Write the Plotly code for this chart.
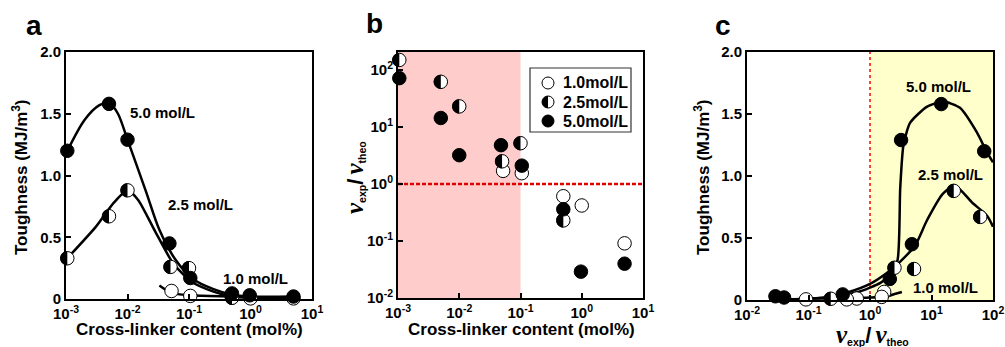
import plotly.graph_objects as go

W, H = 1005, 347
FONT = "Liberation Sans"

# ---------------- data ----------------
content_10 = [0.052, 0.105, 0.5, 1.0, 5.0]
content_25 = [0.00105, 0.005, 0.01, 0.05, 0.1, 0.5]
content_50 = [0.00105, 0.005, 0.01, 0.048, 0.105, 0.5, 0.97, 5.0]

tough_10 = [0.065, 0.025, 0.012, 0.005, 0.005]
tough_25 = [0.33, 0.67, 0.88, 0.26, 0.25, 0.01]
tough_50 = [1.20, 1.58, 1.29, 0.45, 0.17, 0.045, 0.03, 0.02]

ratio_10 = [1.7, 1.55, 0.61, 0.42, 0.091]
ratio_25 = [150, 62, 23, 2.5, 5.2, 0.23]
ratio_50 = [72, 14.4, 3.2, 4.8, 2.1, 0.36, 0.029, 0.04]

# guide curves, panel a (toughness vs cross-linker content)
fit_a50_x = [0.00105, 0.002, 0.0035, 0.005, 0.007, 0.01, 0.02, 0.033, 0.06, 0.117, 0.25, 0.5, 1, 5]
fit_a50_y = [1.20, 1.45, 1.57, 1.59, 1.50, 1.29, 0.87, 0.56, 0.32, 0.16, 0.08, 0.035, 0.02, 0.02]
fit_a25_x = [0.00105, 0.003, 0.006, 0.01, 0.015, 0.028, 0.055, 0.11, 0.25, 0.5, 1, 5]
fit_a25_y = [0.33, 0.58, 0.78, 0.88, 0.80, 0.55, 0.29, 0.14, 0.06, 0.02, 0.01, 0.01]
fit_a10_x = [0.033, 0.052, 0.105, 0.5, 1, 5]
fit_a10_y = [0.11, 0.05, 0.03, 0.02, 0.015, 0.015]

# guide curves, panel c (toughness vs nu_exp/nu_theo)
fit_c50_x = [0.029, 0.1, 0.3, 0.6, 1.0, 1.5, 2.1, 2.8, 3.1, 3.5, 4.5, 8.5, 15.5, 29, 55, 80, 100]
fit_c50_y = [0.005, 0.01, 0.03, 0.06, 0.1, 0.14, 0.2, 0.32, 0.9, 1.25, 1.43, 1.56, 1.6, 1.55, 1.35, 1.19, 1.11]
fit_c25_x = [0.029, 0.1, 0.25, 0.43, 1.0, 1.9, 3.1, 5.4, 8.5, 15.5, 24, 47, 80, 100]
fit_c25_y = [0.005, 0.01, 0.03, 0.06, 0.13, 0.22, 0.31, 0.44, 0.645, 0.86, 0.92, 0.78, 0.68, 0.59]
fit_c10_x = [0.09, 0.4, 1.0, 1.9, 2.6, 3.3]
fit_c10_y = [0.012, 0.015, 0.02, 0.03, 0.05, 0.065]

# ticks
lin_vals = [0, 0.5, 1.0, 1.5, 2.0]
lin_text = ["0", "0.5", "1.0", "1.5", "2.0"]
xa_vals = [0.001, 0.01, 0.1, 1, 10]
xa_text = ["10<sup>-3</sup>", "10<sup>-2</sup>", "10<sup>-1</sup>", "10<sup>0</sup>", "10<sup>1</sup>"]
yb_vals = [0.01, 0.1, 1, 10, 100]
yb_text = ["10<sup>-2</sup>", "10<sup>-1</sup>", "10<sup>0</sup>", "10<sup>1</sup>", "10<sup>2</sup>"]
xc_vals = [0.01, 0.1, 1, 10, 100]
xc_text = yb_text

legend_labels = ["1.0mol/L", "2.5mol/L", "5.0mol/L"]

# ---------------- geometry ----------------
dom_x = {1: [66 / W, 312 / W], 2: [398 / W, 643 / W], 3: [747 / W, 993 / W]}
dom_y = {1: [1 - 299 / H, 1 - 52 / H], 2: [1 - 298 / H, 1 - 52 / H], 3: [1 - 300 / H, 1 - 52 / H]}
rng_x = {1: [-3, 1], 2: [-3, 1], 3: [-2, 2]}
rng_y = {1: [0, 2], 2: [-2, 2.316], 3: [0, 2]}
typ_y = {1: "linear", 2: "log", 3: "linear"}

MS = 13.5
LW = 2.5

fig = go.Figure()


def ax(n):
    return ("x" if n == 1 else f"x{n}"), ("y" if n == 1 else f"y{n}")


def line(n, xs, ys, smooth=0.8):
    xr, yr = ax(n)
    fig.add_trace(go.Scatter(x=xs, y=ys, mode="lines", xaxis=xr, yaxis=yr,
                             line=dict(color="black", width=LW, shape="spline", smoothing=smooth),
                             showlegend=False, hoverinfo="skip"))


def pts(n, xs, ys, fill):
    xr, yr = ax(n)
    fig.add_trace(go.Scatter(x=xs, y=ys, mode="markers", xaxis=xr, yaxis=yr, cliponaxis=False,
                             marker=dict(size=MS, color=fill, line=dict(color="black", width=1)),
                             showlegend=False))


R = MS / 2 + 0.3
K = 0.5523 * R
HALF = f"M0,{R:.2f} C{-K:.2f},{R:.2f} {-R:.2f},{K:.2f} {-R:.2f},0 C{-R:.2f},{-K:.2f} {-K:.2f},{-R:.2f} 0,{-R:.2f} Z"
shapes = []


def halves(n, xs, ys):
    # left-half black caps drawn on hidden, slightly larger axes with identical scale (no clipping at the frame)
    for xv, yv in zip(xs, ys):
        shapes.append(dict(type="path", xref=f"x{n + 3}", yref=f"y{n + 3}", xsizemode="pixel", ysizemode="pixel",
                           xanchor=xv, yanchor=yv, path=HALF, fillcolor="black", line=dict(width=0), layer="above"))


# panel a
line(1, fit_a50_x, fit_a50_y)
line(1, fit_a25_x, fit_a25_y, 0.6)
line(1, fit_a10_x, fit_a10_y)
pts(1, content_10, tough_10, "white")
pts(1, content_25, tough_25, "white")
pts(1, content_50, tough_50, "black")
halves(1, content_25, tough_25)

# panel b
pts(2, content_10, ratio_10, "white")
pts(2, content_25, ratio_25, "white")
pts(2, content_50, ratio_50, "black")
halves(2, content_25, ratio_25)

# panel c
line(3, fit_c50_x, fit_c50_y, 0.6)
line(3, fit_c25_x, fit_c25_y, 0.8)
line(3, fit_c10_x, fit_c10_y)
pts(3, ratio_10, tough_10, "white")
pts(3, ratio_25, tough_25, "white")
pts(3, ratio_50, tough_50, "black")
cx = [v for v in ratio_25 if v <= 100]
cy = [t for v, t in zip(ratio_25, tough_25) if v <= 100]
halves(3, cx, cy)

# hidden axes need a trace each so that their subplot exists
for n in (4, 5, 6):
    fig.add_trace(go.Scatter(x=[], y=[], xaxis=f"x{n}", yaxis=f"y{n}", showlegend=False))

tickfont = dict(family=FONT, size=15, color="black", weight="bold")
base = dict(showline=True, linecolor="black", linewidth=2, mirror=True, ticks="inside", ticklen=5,
            tickwidth=1.5, tickcolor="black", showgrid=False, zeroline=False, tickfont=tickfont)

layout = dict(width=W, height=H, margin=dict(l=0, r=0, t=0, b=0), paper_bgcolor="white",
              plot_bgcolor="rgba(0,0,0,0)", showlegend=False, template="none")

tick_x = {1: (xa_vals, xa_text), 2: (xa_vals, xa_text), 3: (xc_vals, xc_text)}
tick_y = {1: (lin_vals, lin_text), 2: (yb_vals, yb_text), 3: (lin_vals, lin_text)}

PAD = 10
for n in (1, 2, 3):
    xk = "xaxis" if n == 1 else f"xaxis{n}"
    yk = "yaxis" if n == 1 else f"yaxis{n}"
    xr, yr = ax(n)
    layout[xk] = dict(base, type="log", range=rng_x[n], domain=dom_x[n], anchor=yr,
                      tickmode="array", tickvals=tick_x[n][0], ticktext=tick_x[n][1])
    layout[yk] = dict(base, type=typ_y[n], range=rng_y[n], domain=dom_y[n], anchor=xr,
                      tickmode="array", tickvals=tick_y[n][0], ticktext=tick_y[n][1])
    # hidden twin axes with identical scale but extended by PAD pixels
    d0, d1 = dom_x[n]
    upp = (rng_x[n][1] - rng_x[n][0]) / ((d1 - d0) * W)
    layout[f"xaxis{n + 3}"] = dict(type="log", visible=False, domain=[d0 - PAD / W, d1 + PAD / W],
                                   range=[rng_x[n][0] - PAD * upp, rng_x[n][1] + PAD * upp], anchor=f"y{n + 3}")
    e0, e1 = dom_y[n]
    upp = (rng_y[n][1] - rng_y[n][0]) / ((e1 - e0) * H)
    layout[f"yaxis{n + 3}"] = dict(type=typ_y[n], visible=False, domain=[e0 - PAD / H, e1 + PAD / H],
                                   range=[rng_y[n][0] - PAD * upp, rng_y[n][1] + PAD * upp], anchor=f"x{n + 3}")

# background regions and guide lines
shapes_bg = [
    dict(type="rect", xref="x2", yref="y2 domain", x0=0.001, x1=0.1, y0=0, y1=1,
         fillcolor="#FFCCCC", line=dict(width=0), layer="below"),
    dict(type="rect", xref="x3", yref="y3 domain", x0=1, x1=100, y0=0, y1=1,
         fillcolor="#FFFFCC", line=dict(width=0), layer="below"),
    dict(type="line", xref="x2 domain", yref="y2", x0=0, x1=1, y0=1, y1=1,
         line=dict(color="#E00000", width=2.5, dash="4px,2px"), layer="below"),
    dict(type="line", xref="x3", yref="y3 domain", x0=1, x1=1, y0=0, y1=1,
         line=dict(color="#FF0000", width=1.5, dash="dot"), layer="below"),
]

# legend of panel b (box, symbols, labels)
leg = [dict(type="rect", xref="paper", yref="paper", x0=530 / W, x1=631 / W, y0=1 - 132 / H, y1=1 - 68 / H,
            fillcolor="white", line=dict(color="#333333", width=1.2), layer="above")]
leg_y = [83, 102, 121]
leg_fill = ["white", "white", "black"]
for yy, fc in zip(leg_y, leg_fill):
    leg.append(dict(type="circle", xref="paper", yref="paper", xsizemode="pixel", ysizemode="pixel",
                    xanchor=548 / W, yanchor=1 - yy / H, x0=-6, x1=6, y0=-6, y1=6,
                    fillcolor=fc, line=dict(color="black", width=1), layer="above"))
r2 = 6.0
k2 = 0.5523 * r2
leg.append(dict(type="path", xref="paper", yref="paper", xsizemode="pixel", ysizemode="pixel",
                xanchor=548 / W, yanchor=1 - leg_y[1] / H,
                path=f"M0,{r2} C{-k2:.2f},{r2} {-r2},{k2:.2f} {-r2},0 C{-r2},{-k2:.2f} {-k2:.2f},{-r2} 0,{-r2} Z",
                fillcolor="black", line=dict(width=0), layer="above"))

layout["shapes"] = shapes_bg + shapes + leg

bold = dict(family=FONT, color="black", weight="bold")


def ann(text, xp, yp, size, angle=0, xanchor="center", fam=None):
    f = dict(bold, size=size)
    if fam:
        f["family"] = fam
    return dict(text=text, xref="paper", yref="paper", x=xp / W, y=1 - yp / H, xanchor=xanchor,
                yanchor="middle", showarrow=False, textangle=angle, font=f)


NU = "<span style='font-family:Liberation Serif;font-size:25px'><i>ν</i></span>"
SL = "<span style='font-size:22px'>/</span>"
nu_title = f"{NU}<sub>exp</sub>{SL} {NU}<sub>theo</sub>"

annotations = [
    ann("a", 34, 25, 28), ann("b", 374, 23, 28), ann("c", 723, 26, 28),
    ann("Toughness (MJ/m<sup>3</sup>)", 20, 177, 17, -90),
    ann("Toughness (MJ/m<sup>3</sup>)", 702, 177, 17, -90),
    ann("Cross-linker content (mol%)", 189, 329, 17),
    ann("Cross-linker content (mol%)", 521, 329, 17),
    ann(nu_title, 354, 178, 15, -90),
    ann(nu_title, 872, 334, 15),
    ann("5.0 mol/L", 162, 113, 15), ann("2.5 mol/L", 200, 204, 15), ann("1.0 mol/L", 255, 278, 15),
    ann("5.0 mol/L", 938, 86, 15), ann("2.5 mol/L", 950, 174, 15), ann("1.0 mol/L", 945, 287, 15),
]
for yy, lab in zip(leg_y, legend_labels):
    annotations.append(ann(lab, 561, yy, 16, xanchor="left"))
layout["annotations"] = annotations

fig.update_layout(**layout)
fig.write_html("out.html", config={"displayModeBar": False},
               post_script="document.body.style.margin='0px';document.body.style.overflow='hidden';")
